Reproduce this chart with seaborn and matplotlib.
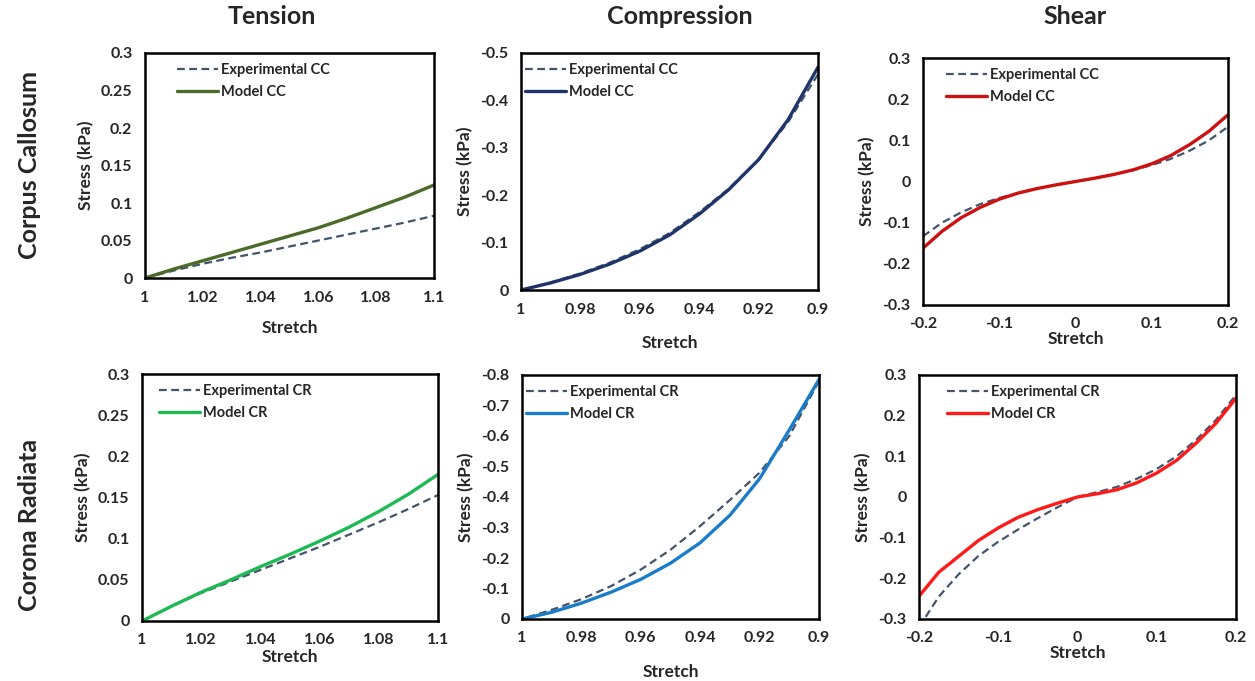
import numpy as np
import pandas as pd
import matplotlib
matplotlib.use('Agg')
import matplotlib.pyplot as plt
import seaborn as sns

# stretch values
stretch_ten = [1.00, 1.01, 1.02, 1.03, 1.04, 1.05, 1.06, 1.07, 1.08, 1.09, 1.10]
stretch_com = [1.00, 0.99, 0.98, 0.97, 0.96, 0.95, 0.94, 0.93, 0.92, 0.91, 0.90]
stretch_shr = [-0.2, -0.175, -0.15, -0.125, -0.1, -0.075, -0.05, -0.025, 0.0,
               0.025, 0.05, 0.075, 0.1, 0.125, 0.15, 0.175, 0.2]

# Corpus Callosum
exp_ten_cc = [0, 0.010, 0.019, 0.027, 0.034, 0.042, 0.050, 0.058, 0.066, 0.074, 0.083]
mod_ten_cc = [0, 0.012, 0.023, 0.034, 0.045, 0.056, 0.067, 0.080, 0.094, 0.108, 0.124]
exp_com_cc = [0, -0.016, -0.035, -0.058, -0.086, -0.120, -0.164, -0.214, -0.275, -0.355, -0.455]
mod_com_cc = [0, -0.015, -0.033, -0.055, -0.082, -0.116, -0.160, -0.212, -0.275, -0.360, -0.470]
exp_shr_cc = [-0.133, -0.100, -0.075, -0.055, -0.040, -0.028, -0.017, -0.008, 0,
              0.008, 0.017, 0.027, 0.040, 0.055, 0.075, 0.100, 0.133]
mod_shr_cc = [-0.162, -0.121, -0.088, -0.063, -0.043, -0.028, -0.017, -0.008, 0,
              0.008, 0.017, 0.028, 0.043, 0.063, 0.090, 0.122, 0.162]

# Corona Radiata
exp_ten_cr = [0, 0.018, 0.034, 0.048, 0.062, 0.076, 0.090, 0.105, 0.120, 0.136, 0.153]
mod_ten_cr = [0, 0.018, 0.035, 0.050, 0.066, 0.081, 0.097, 0.114, 0.133, 0.154, 0.178]
exp_com_cr = [0, -0.030, -0.065, -0.108, -0.162, -0.227, -0.305, -0.390, -0.480, -0.600, -0.780]
mod_com_cr = [0, -0.022, -0.052, -0.088, -0.130, -0.183, -0.250, -0.340, -0.460, -0.620, -0.785]
exp_shr_cr = [-0.32, -0.245, -0.19, -0.145, -0.11, -0.08, -0.052, -0.025, 0,
              0.012, 0.025, 0.045, 0.069, 0.100, 0.141, 0.190, 0.251]
mod_shr_cr = [-0.244, -0.185, -0.146, -0.107, -0.076, -0.050, -0.031, -0.015, 0,
              0.008, 0.018, 0.035, 0.059, 0.090, 0.133, 0.182, 0.243]

col_titles = ['Tension', 'Compression', 'Shear']
row_titles = ['Corpus Callosum', 'Corona Radiata']

exp_color = '#44546A'

sns.set_style('white')
plt.rcParams['font.family'] = ['Lato', 'DejaVu Sans']
plt.rcParams['font.weight'] = 'bold'

W, H = 1255, 681
fig = plt.figure(figsize=(W / 100, H / 100), dpi=100)


def box(l, t, r, b):
    return [l / W, 1 - b / H, (r - l) / W, (b - t) / H]


panels = [
    # (pixel box, x, exp, model, model color, tag, xlim, ylim, yticks, xticks, xlabelpad, legend dx px)
    ((145, 53, 434, 278), stretch_ten, exp_ten_cc, mod_ten_cc, '#4A6B2A', 'CC',
     (1, 1.1), (0, 0.3), np.arange(0, 0.31, 0.05), [1, 1.02, 1.04, 1.06, 1.08, 1.1], 11, 22),
    ((521, 53, 818, 290), stretch_com, exp_com_cc, mod_com_cc, '#1F3468', 'CC',
     (1, 0.9), (0, -0.5), np.arange(0, -0.51, -0.1), [1, 0.98, 0.96, 0.94, 0.92, 0.9], 13, -6),
    ((923, 58, 1228, 305), stretch_shr, exp_shr_cc, mod_shr_cc, '#CC1111', 'CC',
     (-0.2, 0.2), (-0.3, 0.3), np.arange(-0.3, 0.31, 0.1), [-0.2, -0.1, 0, 0.1, 0.2], 0, 13),
    ((142, 374, 438, 621), stretch_ten, exp_ten_cr, mod_ten_cr, '#1DB954', 'CR',
     (1, 1.1), (0, 0.3), np.arange(0, 0.31, 0.05), [1, 1.02, 1.04, 1.06, 1.08, 1.1], 1, 7),
    ((522, 375, 819, 619), stretch_com, exp_com_cr, mod_com_cr, '#1B7CC8', 'CR',
     (1, 0.9), (0, -0.8), np.arange(0, -0.81, -0.1), [1, 0.98, 0.96, 0.94, 0.92, 0.9], 13, -6),
    ((919, 375, 1236, 619), stretch_shr, exp_shr_cr, mod_shr_cr, '#FF1A1A', 'CR',
     (-0.2, 0.2), (-0.3, 0.3), np.arange(-0.3, 0.31, 0.1), [-0.2, -0.1, 0, 0.1, 0.2], 0, 18),
]


def fmt(v):
    v = round(v, 3)
    if abs(v) < 1e-9:
        return '0'
    return ('%g' % v)


for pix, xs, ye, ym, mcol, tag, xl, yl, yt, xt, lp, ldx in panels:
    ax = fig.add_axes(box(*pix))
    df = pd.DataFrame({'x': xs, 'exp': ye, 'mod': ym})
    sns.lineplot(data=df, x='x', y='exp', ax=ax, color=exp_color, lw=1.6,
                 linestyle=(0, (3.5, 2)), label='Experimental ' + tag)
    sns.lineplot(data=df, x='x', y='mod', ax=ax, color=mcol, lw=2.4,
                 label='Model ' + tag)
    ax.set_xlim(*xl)
    ax.set_ylim(*yl)
    ax.set_yticks(yt)
    ax.set_yticklabels([fmt(v) for v in yt])
    ax.set_xticks(xt)
    ax.set_xticklabels([fmt(v) for v in xt])
    ax.tick_params(length=0, labelsize=11.5, pad=9)
    for s in ax.spines.values():
        s.set_color('black')
        s.set_linewidth(1.8)
    ax.set_xlabel('Stretch', fontsize=12.5, fontweight='bold', labelpad=lp)
    ax.set_ylabel('Stress (kPa)', fontsize=12.5, fontweight='bold', labelpad=5)
    ax.legend(loc='upper left', bbox_to_anchor=(ldx / (pix[2] - pix[0]), 1),
              frameon=False, handlelength=2.8,
              handletextpad=0.2, borderaxespad=0.3, labelspacing=0.55,
              prop={'weight': 'bold', 'size': 10.5})

for i, t in enumerate(col_titles):
    xc = [272, 680, 1075][i]
    fig.text(xc / W, 1 - 17 / H, t, ha='center', va='center', fontsize=18,
             fontweight='bold')
for i, t in enumerate(row_titles):
    yc = [165, 525][i]
    fig.text(30 / W, 1 - yc / H, t, ha='center', va='center', rotation=90,
             fontsize=18, fontweight='bold')

fig.savefig('out.png', dpi=100)
